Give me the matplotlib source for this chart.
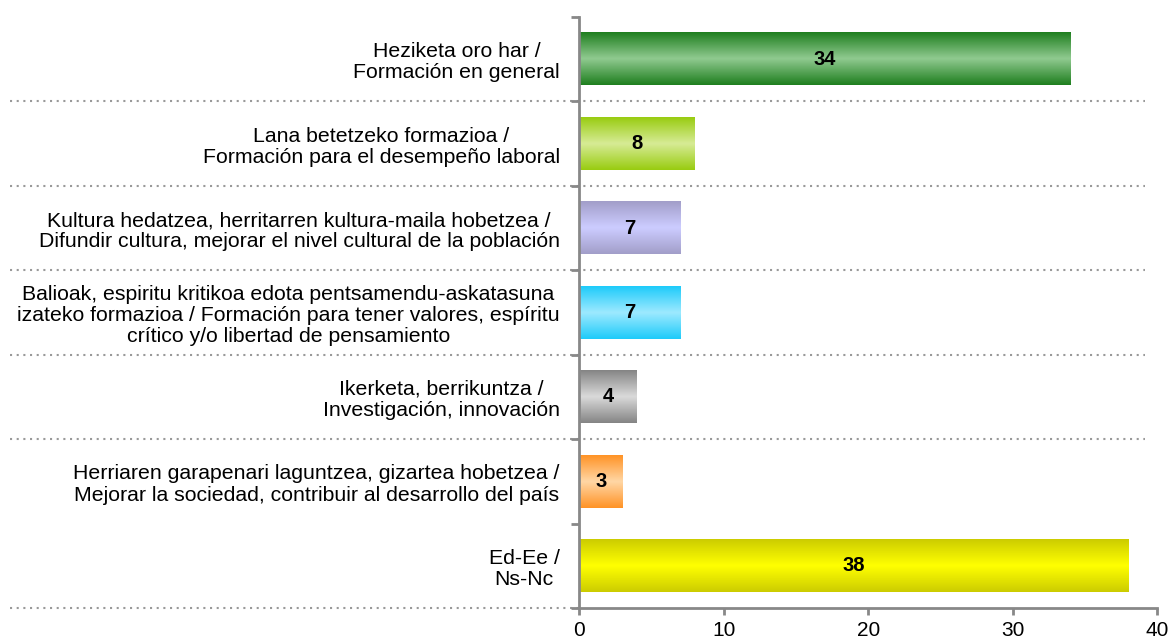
import numpy as np
import matplotlib
matplotlib.use("Agg")
import matplotlib.pyplot as plt
from matplotlib.colors import LinearSegmentedColormap
from matplotlib.transforms import blended_transform_factory

plt.rcParams['font.family'] = ['Liberation Sans', 'DejaVu Sans']

labels = [
    "Heziketa oro har /\nFormación en general",
    "Lana betetzeko formazioa /\nFormación para el desempeño laboral",
    "Kultura hedatzea, herritarren kultura-maila hobetzea /\nDifundir cultura, mejorar el nivel cultural de la población",
    "Balioak, espiritu kritikoa edota pentsamendu-askatasuna\nizateko formazioa / Formación para tener valores, espíritu\ncrítico y/o libertad de pensamiento",
    "Ikerketa, berrikuntza /\nInvestigación, innovación",
    "Herriaren garapenari laguntzea, gizartea hobetzea /\nMejorar la sociedad, contribuir al desarrollo del país",
    "Ed-Ee /\nNs-Nc",
]
values = [34, 8, 7, 7, 4, 3, 38]
edge_colors = ["#1f7f1f", "#99cc11", "#a29ec9", "#1ecbfa", "#858585", "#ff9326", "#cccc00"]
center_colors = ["#8fc98f", "#d6eb94", "#ccccff", "#9ce9ff", "#d9d9d9", "#ffd6a4", "#ffff00"]
x_ticks = [0, 10, 20, 30, 40]

fig = plt.figure(figsize=(11.7, 6.39), dpi=100)
ax = fig.add_axes([0.495, 0.0485, 0.494, 0.925])

n = len(values)
bar_h = 0.62

grad = np.concatenate([np.linspace(0, 1, 50), np.linspace(1, 0, 50)]).reshape(-1, 1)
for i, (v, ec, cc) in enumerate(zip(values, edge_colors, center_colors)):
    yc = n - i - 0.5
    cmap = LinearSegmentedColormap.from_list("g%d" % i, [ec, cc])
    ax.imshow(grad, cmap=cmap, aspect="auto", interpolation="bilinear",
              extent=[0, v, yc - bar_h / 2, yc + bar_h / 2], zorder=2)
    ax.text(v / 2, yc, str(v), ha="center", va="center", fontsize=14.5,
            fontweight="bold", color="black", zorder=3)

# reset limits after imshow
ax.set_xlim(0, 40)
ax.set_ylim(0, n)

# dotted separators
tr = blended_transform_factory(ax.transAxes, ax.transData)
for y in [6, 5, 4, 3, 2]:
    ax.plot([-0.984, 0.979], [y, y], transform=tr, clip_on=False,
            color="#999999", linestyle=(0, (1, 2.2)), linewidth=1.5, zorder=1)
ax.plot([-0.984, 0], [0, 0], transform=tr, clip_on=False,
        color="#999999", linestyle=(0, (1, 2.2)), linewidth=1.5, zorder=1)

# axes styling
for s in ["top", "right"]:
    ax.spines[s].set_visible(False)
for s in ["left", "bottom"]:
    ax.spines[s].set_color("#888888")
    ax.spines[s].set_linewidth(2)

ax.set_xticks(x_ticks)
ax.set_xticklabels([str(t) for t in x_ticks], fontsize=15)
ax.tick_params(axis="x", length=5, width=2, color="#888888", pad=4)

ax.set_yticks(np.arange(0, n + 1))
ax.set_yticklabels([])
ax.tick_params(axis="y", which="major", length=6, width=2, color="#888888")
ax.set_yticks([n - i - 0.5 for i in range(n)], minor=True)
ax.set_yticklabels(labels, minor=True, fontsize=15.3, multialignment="center",
                   linespacing=1.15)
ax.tick_params(axis="y", which="minor", length=0, pad=14)

fig.savefig("out.png", dpi=100)
